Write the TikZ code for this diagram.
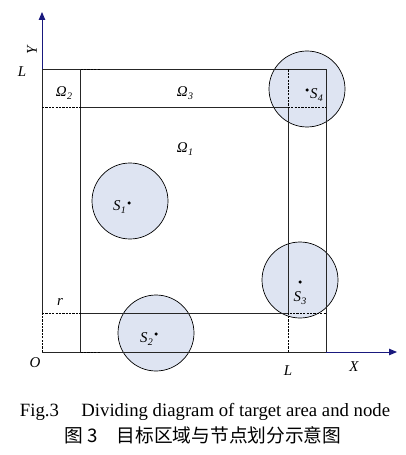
\documentclass[tikz,border=0pt]{standalone}
\usepackage{fontspec}
\setmainfont{Liberation Serif}
\newfontfamily\cjk{Noto Sans CJK SC}
\usetikzlibrary{arrows.meta}
\definecolor{axisblue}{RGB}{25,25,125}
\definecolor{cfill}{RGB}{222,228,242}
\newcommand\subl[2]{\textit{#1}\kern0.3pt\raisebox{-0.4ex}{\fontsize{10}{10}\selectfont #2}}
\begin{document}
\begin{tikzpicture}[x=1bp,y=-1bp,
  ln/.style={line width=0.7pt, black!85},
  dsh/.style={line width=0.9pt, black, dash pattern=on 2.2pt off 1.2pt},
  ax/.style={line width=0.9pt, axisblue, -{Triangle[length=8bp,width=6.5bp]}},
  sensor/.style={circle, draw, line width=0.7pt, fill=cfill, minimum size=76bp, inner sep=0},
  lbl/.style={font=\fontsize{15}{15}\selectfont\itshape, inner sep=0},
  sdot/.style={circle, fill, inner sep=0, minimum size=3.5bp},
  captext/.style={font=\fontsize{18.8}{20}\selectfont, inner sep=0}]
\useasboundingbox (0,0) rectangle (405,455);
% sensor circles
\node[sensor] (c1) at (130,201) {};
\node[sensor] (c2) at (156,333) {};
\node[sensor] (c3) at (300,280) {};
\node[sensor] (c4) at (307,89) {};
% grid coordinates
\coordinate (O) at (42,352);
\coordinate (B1) at (80.7,352);
\coordinate (B1e) at (100,352);
\coordinate (B2) at (288,352);
\coordinate (B3) at (326,352);
\coordinate (P1) at (42,313);
\coordinate (Q1) at (80.7,313);
\coordinate (R1) at (288,313);
\coordinate (S1) at (326,313);
\coordinate (P2) at (42,107);
\coordinate (Q2) at (80.7,107);
\coordinate (R2) at (288,107);
\coordinate (S2) at (326,107);
\coordinate (T0) at (42,69.5);
\coordinate (T1) at (80.7,69.5);
\coordinate (T1e) at (100,69.5);
\coordinate (T2) at (288,69.5);
\coordinate (T3) at (326,69.5);
\coordinate (Yend) at (42,12);
\coordinate (Xend) at (397,352);
% solid lines
\draw[ln] (T0) -- (T3);
\draw[ln] (O) -- (B3);
\draw[ln] (P1) -- (T0);
\draw[ln] (B3) -- (T3);
\draw[ln] (B1) -- (T1);
\draw[ln] (R2) -- (R1);
\draw[ln] (Q2) -- (R2);
\draw[ln] (Q1) -- (R1);
% dashed corner lines
\draw[dsh] (O) -- (P1);
\draw[dsh] (P1) -- (Q1);
\draw[dsh] (P2) -- (Q2);
\draw[dsh] (T2) -- (R2) -- (S2);
\draw[dsh] (B2) -- (R1) -- (S1);
\draw[dsh] (T1) -- (T1e);
\draw[dsh] (B1) -- (B1e);
% axes
\draw[ax] (T0) -- (Yend);
\draw[ax] (B3) -- (Xend);
% sensor dots and labels
\node[sdot] (d1) at (129,203) {};
\node[sdot] (d2) at (156,334) {};
\node[sdot] (d3) at (300,282) {};
\node[sdot] (d4) at (307,90) {};
\node[lbl, anchor=east] at (126,207) {\subl{S}{1}};
\node[lbl, anchor=east] at (153,339) {\subl{S}{2}};
\node[lbl] at (300,298) {\subl{S}{3}};
\node[lbl, anchor=west] at (310,95) {\subl{S}{4}};
% region labels
\node[lbl] at (64,93) {\subl{Ω}{2}};
\node[lbl] at (185,93) {\subl{Ω}{3}};
\node[lbl] at (185,149) {\subl{Ω}{1}};
\node[lbl] at (60,302) {r};
% axis labels
\node[lbl] at (35,363) {O};
\node[lbl] at (288,371) {L};
\node[lbl] at (354,367) {X};
\node[lbl] at (22,72) {L};
\node[lbl, rotate=90] at (32,50) {Y};
% caption
\node[captext] at (205,412) {Fig.3\hspace{1.2em}Dividing diagram of target area and node};
\node[captext] at (203,435) {\cjk 图 3\hspace{1em}目标区域与节点划分示意图};
\end{tikzpicture}
\end{document}
